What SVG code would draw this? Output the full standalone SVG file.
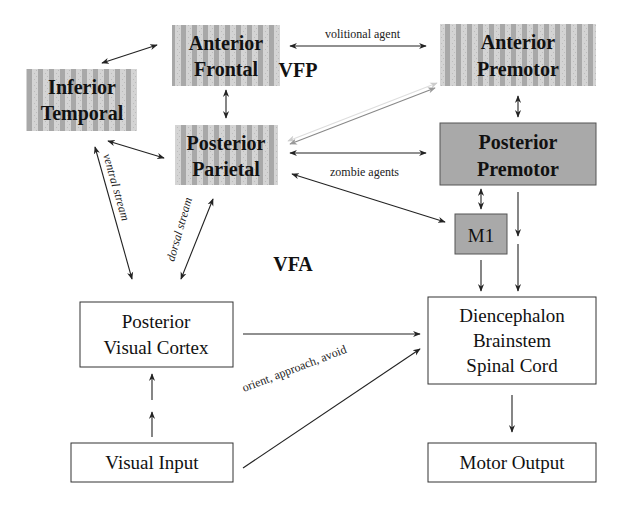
<svg xmlns="http://www.w3.org/2000/svg" width="632" height="506" viewBox="0 0 632 506">
<defs>
<pattern id="stripes" width="11" height="6" patternUnits="userSpaceOnUse">
<rect width="11" height="6" fill="#d4d4d4"/>
<rect x="5" width="5" height="6" fill="#a8a8a8"/>
<rect x="1" y="1" width="1" height="1" fill="#bbb"/>
<rect x="3" y="4" width="1" height="1" fill="#bbb"/>
</pattern>
<marker id="a" viewBox="0 0 10 10" refX="9" refY="5" markerWidth="7" markerHeight="7" orient="auto-start-reverse"><path d="M0,1 L10,5 L0,9 L3,5 Z" fill="#222"/></marker>
<marker id="g" viewBox="0 0 10 10" refX="9" refY="5" markerWidth="7" markerHeight="7" orient="auto-start-reverse"><path d="M0,1 L10,5 L0,9 L3,5 Z" fill="#999"/></marker>
<marker id="l" viewBox="0 0 10 10" refX="9" refY="5" markerWidth="7" markerHeight="7" orient="auto-start-reverse"><path d="M0,1 L10,5 L0,9 L3,5 Z" fill="#ccc"/></marker>
</defs>
<style>
text{font-family:"Liberation Serif","DejaVu Serif","Times New Roman",serif}
.b{font-weight:bold;font-size:20px;text-anchor:middle;fill:#111}
.n{font-size:19px;text-anchor:middle;fill:#111}
.s{font-size:12px;fill:#222}
.i{font-size:12px;font-style:italic;fill:#222}
.p{fill:url(#stripes)}
.w{fill:#fff;stroke:#333;stroke-width:1}
.c line{stroke:#222;stroke-width:1.1;fill:none}
</style>
<rect width="632" height="506" fill="#fff"/>
<g id="anterior-frontal"><rect class="p" x="172" y="25" width="108" height="61"/><text class="b" x="226" y="50">Anterior</text><text class="b" x="226" y="76">Frontal</text></g>
<g id="inferior-temporal"><rect class="p" x="26" y="69" width="111" height="62"/><text class="b" x="82" y="94">Inferior</text><text class="b" x="82" y="120">Temporal</text></g>
<g id="posterior-parietal"><rect class="p" x="175" y="125" width="103" height="60"/><text class="b" x="226" y="150">Posterior</text><text class="b" x="226" y="176">Parietal</text></g>
<g id="anterior-premotor"><rect class="p" x="440" y="24" width="156" height="62"/><text class="b" x="518" y="49">Anterior</text><text class="b" x="518" y="76">Premotor</text></g>
<g id="posterior-premotor"><rect x="440" y="123" width="156" height="62" fill="#a9a9a9" stroke="#555"/><text class="b" x="518" y="149">Posterior</text><text class="b" x="518" y="176">Premotor</text></g>
<g id="m1"><rect x="455" y="214" width="52" height="40" fill="#a9a9a9" stroke="#555"/><text class="n" x="481" y="242" font-size="21">M1</text></g>
<g id="visual-cortex"><rect class="w" x="80" y="302" width="153" height="65"/><text class="n" x="156" y="328">Posterior</text><text class="n" x="156" y="354">Visual Cortex</text></g>
<g id="diencephalon"><rect class="w" x="428" y="297" width="168" height="87"/><text class="n" x="512" y="322">Diencephalon</text><text class="n" x="512" y="347">Brainstem</text><text class="n" x="512" y="372">Spinal Cord</text></g>
<g id="visual-input"><rect class="w" x="71" y="443" width="162" height="39"/><text class="n" x="152" y="469">Visual Input</text></g>
<g id="motor-output"><rect class="w" x="428" y="443" width="168" height="39"/><text class="n" x="512" y="469">Motor Output</text></g>
<g id="labels">
<text class="b" x="298" y="77" text-anchor="start" font-size="24">VFP</text>
<text class="b" x="293" y="271" text-anchor="start" font-size="24">VFA</text>
<text class="s" x="325" y="38">volitional agent</text>
<text class="s" x="330" y="176">zombie agents</text>
<text class="i" x="0" y="0" transform="translate(103,155) rotate(74)">ventral stream</text>
<text class="i" x="0" y="0" transform="translate(174,262) rotate(-74)">dorsal stream</text>
<text class="s" x="0" y="0" transform="translate(244,392) rotate(-21)">orient, approach, avoid</text>
</g>
<g id="connectors" class="c">
<line x1="102" y1="63" x2="157" y2="45" marker-start="url(#a)" marker-end="url(#a)"/>
<line x1="226" y1="90" x2="226" y2="118" marker-start="url(#a)" marker-end="url(#a)"/>
<line x1="108" y1="141" x2="164" y2="158" marker-start="url(#a)" marker-end="url(#a)"/>
<line x1="290" y1="46" x2="426" y2="46" marker-start="url(#a)" marker-end="url(#a)"/>
<line x1="288" y1="141" x2="437" y2="83" style="stroke:#ddd" marker-start="url(#l)" marker-end="url(#l)"/>
<line x1="290" y1="144" x2="435" y2="88" style="stroke:#888" marker-start="url(#g)" marker-end="url(#g)"/>
<line x1="290" y1="153" x2="426" y2="153" marker-start="url(#a)" marker-end="url(#a)"/>
<line x1="292" y1="174" x2="445" y2="222" marker-start="url(#a)" marker-end="url(#a)"/>
<line x1="518" y1="96" x2="518" y2="117" marker-start="url(#a)" marker-end="url(#a)"/>
<line x1="481" y1="189" x2="481" y2="209" marker-start="url(#a)" marker-end="url(#a)"/>
<line x1="518" y1="192" x2="518" y2="236" marker-end="url(#a)"/>
<line x1="518" y1="244" x2="518" y2="291" marker-end="url(#a)"/>
<line x1="481" y1="260" x2="481" y2="291" marker-end="url(#a)"/>
<line x1="95" y1="147" x2="132" y2="279" marker-start="url(#a)" marker-end="url(#a)"/>
<line x1="181" y1="279" x2="213" y2="199" marker-start="url(#a)" marker-end="url(#a)"/>
<line x1="243" y1="334" x2="420" y2="334" marker-end="url(#a)"/>
<line x1="243" y1="468" x2="420" y2="349" marker-end="url(#a)"/>
<line x1="152" y1="437" x2="152" y2="412" marker-end="url(#a)"/>
<line x1="152" y1="400" x2="152" y2="374" marker-end="url(#a)"/>
<line x1="512" y1="395" x2="512" y2="432" marker-end="url(#a)"/>
</g>
</svg>
